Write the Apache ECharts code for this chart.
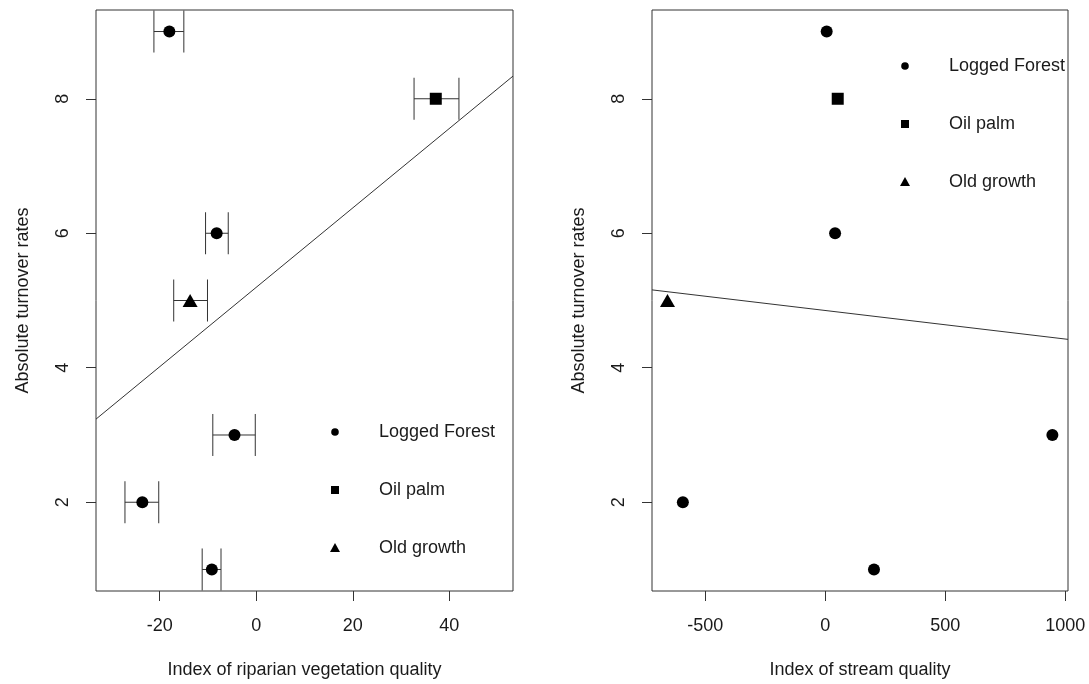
<!DOCTYPE html>
<html>
<head>
<meta charset="utf-8">
<script src="https://cdn.jsdelivr.net/npm/echarts@6/dist/echarts.min.js"></script>
<style>
  html, body { margin: 0; padding: 0; background: #fff; }
  #chart { width: 1089px; height: 684px; }
</style>
</head>
<body>
<div id="chart"></div>
<script>
// Turnover rate per site (y) against two habitat indices (x)
const turnoverTicks = [2, 4, 6, 8];
const vegTicks = [-20, 0, 20, 40];
const streamTicks = [-500, 0, 500, 1000];

const turnoverRange = [0.68, 9.32];
const vegRange = [-33.2, 53.2];
const streamRange = [-721.5, 1011];

// Logged forest sites
const loggedTurnover = [9, 6, 3, 2, 1];
const loggedVeg = [-18.0, -8.2, -4.5, -23.6, -9.2];
const loggedVegLo = [-21.2, -10.5, -9.0, -27.2, -11.2];
const loggedVegHi = [-15.0, -5.8, -0.2, -20.2, -7.3];
const loggedStream = [6, 41, 946, -593, 203];

// Oil palm site
const oilTurnover = [8];
const oilVeg = [37.2];
const oilVegLo = [32.7];
const oilVegHi = [42.0];
const oilStream = [52];

// Old growth site
const oldTurnover = [5];
const oldVeg = [-13.7];
const oldVegLo = [-17.1];
const oldVegHi = [-10.1];
const oldStream = [-657];

// Fitted regression lines, endpoints at the plot edges
const vegFitX = [-33.2, 53.2];
const vegFitY = [3.236, 8.337];
const streamFitX = [-721.5, 1011];
const streamFitY = [5.158, 4.422];

const legendNames = ['Logged Forest', 'Oil palm', 'Old growth'];

const FONT = '"Liberation Sans", Arial, sans-serif';
const INK = '#1a1a1a';
const LINE = '#333';

const pairs = (xs, ys) => xs.map((x, i) => [x, ys[i]]);
const bars = (lo, hi, ys) => lo.map((l, i) => [l, hi[i], ys[i]]);
const plain = v => String(v);

function errorBar(params, api) {
  const y = api.value(2);
  const a = api.coord([api.value(0), y]);
  const b = api.coord([api.value(1), y]);
  const cap = 21;
  const st = { stroke: LINE, lineWidth: 1 };
  return {
    type: 'group',
    children: [
      { type: 'line', shape: { x1: a[0], y1: a[1], x2: b[0], y2: b[1] }, style: st },
      { type: 'line', shape: { x1: a[0], y1: a[1] - cap, x2: a[0], y2: a[1] + cap }, style: st },
      { type: 'line', shape: { x1: b[0], y1: b[1] - cap, x2: b[0], y2: b[1] + cap }, style: st }
    ]
  };
}

function xAxisFor(grid, range, ticks, name) {
  return {
    gridIndex: grid, type: 'value', min: range[0], max: range[1],
    name: name, nameLocation: 'middle', nameGap: 70,
    nameTextStyle: { fontSize: 18, color: INK, fontFamily: FONT },
    axisLine: { show: false, onZero: false }, splitLine: { show: false },
    axisTick: { show: true, length: 10, customValues: ticks, lineStyle: { color: LINE } },
    axisLabel: { customValues: ticks, formatter: plain, fontSize: 18, color: INK, fontFamily: FONT, margin: 26 }
  };
}

function yAxisFor(grid) {
  return {
    gridIndex: grid, type: 'value', min: turnoverRange[0], max: turnoverRange[1],
    name: 'Absolute turnover rates', nameLocation: 'middle', nameGap: 64,
    nameTextStyle: { fontSize: 18, color: INK, fontFamily: FONT },
    axisLine: { show: false, onZero: false }, splitLine: { show: false },
    axisTick: { show: true, length: 10, customValues: turnoverTicks, lineStyle: { color: LINE } },
    axisLabel: { customValues: turnoverTicks, formatter: plain, rotate: 90, fontSize: 18, color: INK, fontFamily: FONT, margin: 24 }
  };
}

function legendGraphics(mx, tx, y0, step) {
  const out = [];
  const ys = [y0, y0 + step, y0 + 2 * step];
  out.push({ type: 'circle', shape: { cx: mx, cy: ys[0], r: 3.8 }, style: { fill: '#000' } });
  out.push({ type: 'rect', shape: { x: mx - 4, y: ys[1] - 4, width: 8, height: 8 }, style: { fill: '#000' } });
  out.push({ type: 'polygon', shape: { points: [[mx - 5, ys[2] + 4], [mx + 5, ys[2] + 4], [mx, ys[2] - 5]] }, style: { fill: '#000' } });
  legendNames.forEach((n, i) => {
    out.push({ type: 'text', x: tx, y: ys[i], style: { text: n, font: '18px ' + FONT, fill: INK, verticalAlign: 'middle', align: 'left' } });
  });
  return out;
}

function scatter(grid, data, symbol, size) {
  return {
    type: 'scatter', xAxisIndex: grid, yAxisIndex: grid, data: data,
    symbol: symbol, symbolSize: size, itemStyle: { color: '#000', opacity: 1 },
    silent: true, z: 5
  };
}

const chart = echarts.init(document.getElementById('chart'), null, { renderer: 'canvas' });
chart.setOption({
  animation: false,
  backgroundColor: '#fff',
  grid: [
    { left: 96, top: 10, width: 417, height: 581, show: true, borderColor: LINE, borderWidth: 1, backgroundColor: 'transparent' },
    { left: 652, top: 10, width: 416, height: 581, show: true, borderColor: LINE, borderWidth: 1, backgroundColor: 'transparent' }
  ],
  xAxis: [
    xAxisFor(0, vegRange, vegTicks, 'Index of riparian vegetation quality'),
    xAxisFor(1, streamRange, streamTicks, 'Index of stream quality')
  ],
  yAxis: [yAxisFor(0), yAxisFor(1)],
  graphic: legendGraphics(335, 379, 432, 58).concat(legendGraphics(905, 949, 66, 58)),
  series: [
    {
      type: 'line', xAxisIndex: 0, yAxisIndex: 0, data: pairs(vegFitX, vegFitY),
      symbol: 'none', lineStyle: { color: LINE, width: 1 }, clip: true, silent: true, z: 2
    },
    {
      type: 'line', xAxisIndex: 1, yAxisIndex: 1, data: pairs(streamFitX, streamFitY),
      symbol: 'none', lineStyle: { color: LINE, width: 1 }, clip: true, silent: true, z: 2
    },
    {
      type: 'custom', xAxisIndex: 0, yAxisIndex: 0, renderItem: errorBar,
      encode: { x: [0, 1], y: 2 }, silent: true, z: 3,
      data: bars(loggedVegLo, loggedVegHi, loggedTurnover)
        .concat(bars(oilVegLo, oilVegHi, oilTurnover))
        .concat(bars(oldVegLo, oldVegHi, oldTurnover))
    },
    scatter(0, pairs(loggedVeg, loggedTurnover), 'circle', 12),
    scatter(0, pairs(oilVeg, oilTurnover), 'rect', 12),
    scatter(0, pairs(oldVeg, oldTurnover), 'triangle', [15, 13]),
    scatter(1, pairs(loggedStream, loggedTurnover), 'circle', 12),
    scatter(1, pairs(oilStream, oilTurnover), 'rect', 12),
    scatter(1, pairs(oldStream, oldTurnover), 'triangle', [15, 13])
  ]
});
</script>
</body>
</html>
